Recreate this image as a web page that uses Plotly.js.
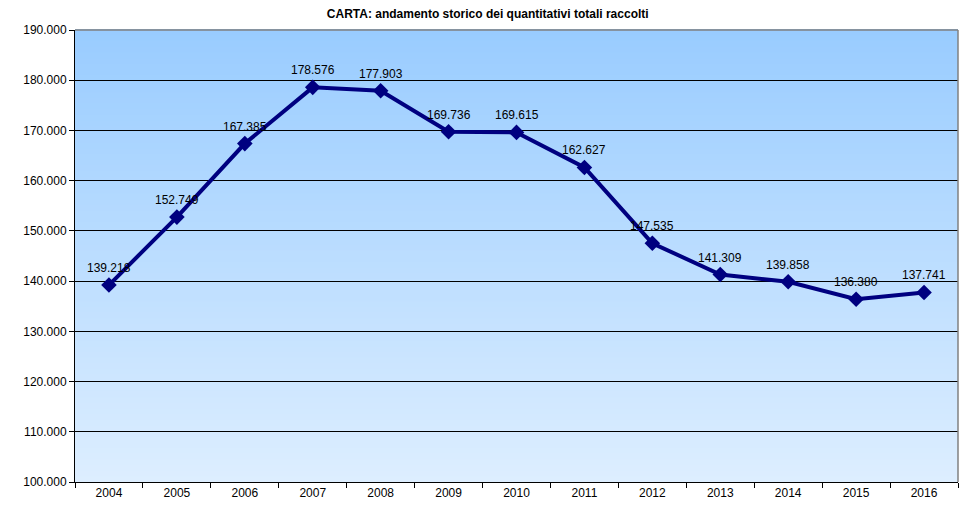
<!DOCTYPE html>
<html><head><meta charset="utf-8">
<script src="https://cdn.plot.ly/plotly-3.0.1.min.js"></script>
<style>html,body{margin:0;padding:0;background:#fff}#chart{width:962px;height:507px}</style>
</head><body><div id="chart"></div>
<script>
const years = ['2004','2005','2006','2007','2008','2009','2010','2011','2012','2013','2014','2015','2016'];
const quantities = [139218,152749,167385,178576,177903,169736,169615,162627,147535,141309,139858,136380,137741];
const chartTitle = 'CARTA: andamento storico dei quantitativi totali raccolti';

function fmt(v){
  const k = Math.floor(v/1000), r = v % 1000;
  return k + '.' + String(r).padStart(3,'0');
}

const font = 'Arial, "Liberation Sans", sans-serif';

// gradient background bands
const shapes = [];
const N = 80;
const colTop = [153,204,255], colBot = [221,238,255];
for (let i = 0; i < N; i++) {
  const t = (i + 0.5) / N; // 0 bottom -> 1 top
  const c = colBot.map((b, j) => Math.round(b + (colTop[j] - b) * t));
  shapes.push({type:'rect', xref:'paper', yref:'paper', x0:0, x1:1, y0:i/N, y1:(i+1)/N + 0.002,
    fillcolor:`rgb(${c[0]},${c[1]},${c[2]})`, line:{width:0}, layer:'below'});
}
shapes.push({type:'line', xref:'paper', yref:'paper', x0:0, x1:1, y0:1, y1:1, line:{color:'#808080', width:1.5}, layer:'above'});
shapes.push({type:'line', xref:'paper', yref:'paper', x0:1, x1:1, y0:0, y1:1, line:{color:'#808080', width:1.5}, layer:'above'});

const annotations = years.map((y, i) => ({
  x: i, y: quantities[i], xref:'x', yref:'y', text: fmt(quantities[i]),
  showarrow:false, yshift:17, font:{family:font, size:12, color:'#000'}
}));

const trace = {
  x: years, y: quantities, type:'scatter', mode:'lines+markers',
  line:{color:'#000080', width:4},
  marker:{symbol:'diamond', size:12, color:'#000080'},
  hoverinfo:'skip'
};

const layout = {
  width:962, height:507,
  margin:{l:75, r:4, t:30, b:25},
  paper_bgcolor:'#fff', plot_bgcolor:'#ddeeff',
  separators:',.',
  showlegend:false,
  title:{text:'<b>' + chartTitle + '</b>', xref:'container', yref:'container', x:0.507, xanchor:'center', y:0.972, yanchor:'middle', font:{family:font, size:12, color:'#000'}},
  xaxis:{type:'category', categoryarray:years, range:[-0.5, years.length - 0.5], autorange:false,
    tickson:'boundaries', ticks:'outside', ticklen:5, tickcolor:'#000', tickangle:0,
    showline:true, linecolor:'#000', linewidth:1, showgrid:false, zeroline:false,
    tickfont:{family:font, size:12, color:'#000'}, fixedrange:true},
  yaxis:{range:[100000,190000], autorange:false, dtick:10000, tick0:100000, tickformat:',.0f', ticks:'outside', ticklen:5, tickcolor:'#000',
    showline:true, linecolor:'#000', linewidth:1, showgrid:true, gridcolor:'#000', gridwidth:1, zeroline:false,
    tickfont:{family:font, size:12, color:'#000'}, fixedrange:true},
  shapes: shapes,
  annotations: annotations
};

Plotly.newPlot('chart', [trace], layout, {staticPlot:true, displayModeBar:false});
</script>
</body></html>
